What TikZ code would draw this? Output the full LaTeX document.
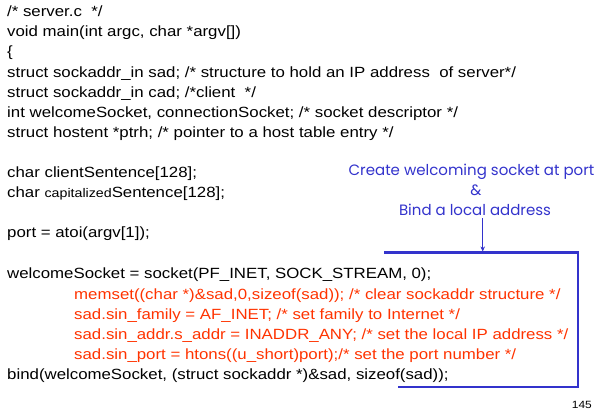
\documentclass[tikz,border=0pt]{standalone}
\usepackage{fontspec}
\setmainfont[FakeStretch=1.137]{Liberation Sans}
\newfontfamily\notefont{Poppins}
\usetikzlibrary{arrows.meta}
\definecolor{noteblue}{RGB}{51,51,204}
\definecolor{codered}{RGB}{255,51,0}
\begin{document}
\begin{tikzpicture}[x=1bp,y=-1bp,
  code/.style={anchor=base west, inner sep=0pt, font=\fontsize{14.8bp}{18bp}\selectfont},
  redcode/.style={code, text=codered},
  note/.style={anchor=base, inner sep=0pt, text=noteblue, font=\notefont\fontsize{15bp}{20bp}\selectfont},
  bracketline/.style={draw=noteblue, line width=2.5bp, line join=miter},
  pointer/.style={draw=noteblue, line width=1.4bp, -{Stealth[length=5bp,width=4.5bp]}},
  pagenum/.style={anchor=base east, inner sep=0pt, font=\fontsize{10.5bp}{12bp}\selectfont}]
\useasboundingbox (0,0) rectangle (609,413);
\node[code] (l1) at (7,16) {/* server.c\ \ */};
\node[code] (l2) at (7,36) {void main(int argc, char *argv[])};
\node[code] (l3) at (7,56) {\{};
\node[code] (l4) at (7,77) {struct sockaddr\_in sad; /* structure to hold an IP address\ \ of server*/};
\node[code] (l5) at (7,97) {struct sockaddr\_in cad; /*client\ \ */};
\node[code] (l6) at (7,117) {int welcomeSocket, connectionSocket; /* socket descriptor */};
\node[code] (l7) at (7,137) {struct hostent *ptrh; /* pointer to a host table entry */};
\node[code] (l8) at (7,177) {char clientSentence[128];};
\node[code] (l9) at (7,197) {char {\fontsize{12.5bp}{14bp}\selectfont capitalized}Sentence[128];};
\node[code] (l10) at (7,237) {port = atoi(argv[1]);};
\node[code] (l11) at (7,278) {welcomeSocket = socket(PF\_INET, SOCK\_STREAM, 0);};
\node[redcode] (l12) at (74,299) {memset((char *)\&sad,0,sizeof(sad)); /* clear sockaddr structure */};
\node[redcode] (l13) at (74,319) {sad.sin\_family = AF\_INET; /* set family to Internet */};
\node[redcode] (l14) at (74,339) {sad.sin\_addr.s\_addr = INADDR\_ANY; /* set the local IP address */};
\node[redcode] (l15) at (74,359) {sad.sin\_port = htons((u\_short)port);/* set the port number */};
\node[code] (l16) at (7,379.5) {bind(welcomeSocket, (struct sockaddr *)\&sad, sizeof(sad));};
\node[note] (n1) at (471.5,175) {Create welcoming socket at port};
\node[note] (n2) at (476,195) {\&};
\node[note] (n3) at (475,215) {Bind a local address};
\coordinate (b1) at (384,252.5);
\coordinate (b2) at (578,252.5);
\coordinate (b3) at (578,387);
\coordinate (b4) at (398,387);
\draw[bracketline] (b1) -- (b2) -- (b3) -- (b4);
\coordinate (astart) at (482.7,218);
\coordinate (aend) at (482.7,251.5);
\draw[pointer] (astart) -- (aend);
\node[pagenum] (pg) at (592,408) {145};
\end{tikzpicture}
\end{document}
